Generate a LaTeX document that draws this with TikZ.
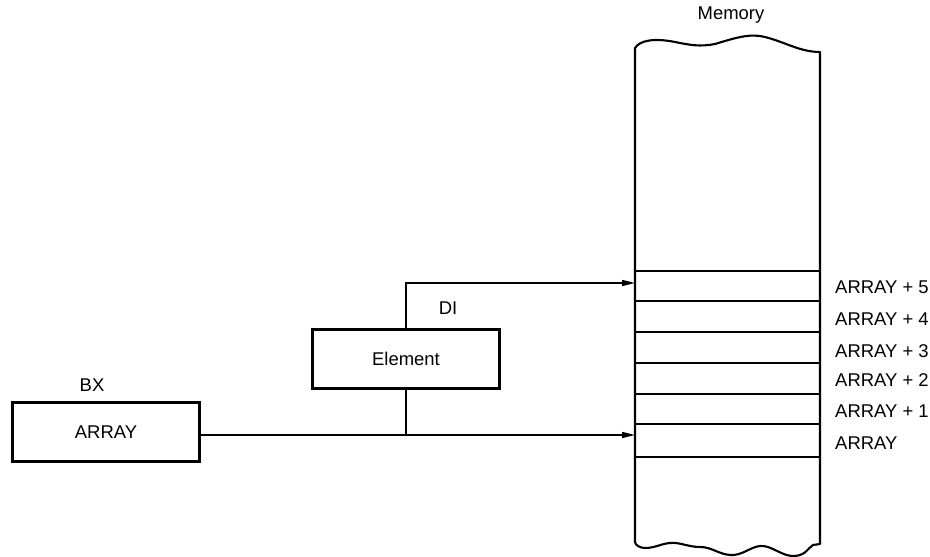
\documentclass[tikz,border=0pt]{standalone}
\usepackage{fontspec}
\setmainfont{Liberation Sans}
\usetikzlibrary{arrows.meta,calc}

\begin{document}
\begin{tikzpicture}[x=0.02cm,y=-0.02cm,
	reg/.style={draw, line width=1.4pt, minimum width=3.74cm, minimum height=1.18cm, font=\fontsize{10.5}{12}\selectfont},
	lbl/.style={font=\fontsize{10.5}{12}\selectfont},
	wire/.style={line width=0.9pt},
	ptr/.style={wire, -{Triangle[length=2.6mm,width=1.2mm]}}]
	\useasboundingbox (0,0) rectangle (930,557);
	
	\def\ml{635} % memory left edge
	\def\mr{820} % memory right edge
	
	% memory column with torn top and bottom
	\draw[line width=1.2pt, line join=round]
		(\ml,542) -- (\ml,48)
		.. controls (640,40) and (655,38) .. (675,42)
		.. controls (690,45) and (700,47) .. (715,44)
		.. controls (735,38) and (750,33) .. (765,37)
		.. controls (785,42) and (800,52) .. (\mr,52)
		-- (\mr,544) -- (813,545)
		.. controls (808,548) and (806,555) .. (795,556)
		.. controls (782,557) and (772,545) .. (760,546)
		.. controls (750,547) and (742,556) .. (730,555)
		.. controls (718,554) and (712,547) .. (700,547)
		.. controls (688,547) and (680,542) .. (670,543)
		.. controls (660,544) and (655,548) .. (645,548)
		.. controls (640,548) and (\ml,545) .. cycle;
	\node[lbl] (mem) at (731,15) {Memory};
	
	% cell borders
	\foreach \y in {271,301,332,363,394,424,457}
		\draw[line width=1.2pt] (\ml,\y) -- (\mr,\y);
	
	% cell addresses
	\node[lbl, anchor=west] (a5) at (829,287) {ARRAY + 5};
	\node[lbl, anchor=west] (a4) at (829,319) {ARRAY + 4};
	\node[lbl, anchor=west] (a3) at (829,351) {ARRAY + 3};
	\node[lbl, anchor=west] (a2) at (829,380) {ARRAY + 2};
	\node[lbl, anchor=west] (a1) at (829,411) {ARRAY + 1};
	\node[lbl, anchor=west] (a0) at (829,443) {ARRAY};
	
	% arrow targets
	\coordinate (m5) at (\ml,283);
	\coordinate (m0) at (\ml,435);
	
	% registers
	\node[reg] (bx) at (106,432) {ARRAY};
	\node[lbl] (bxl) at (92,385) {BX};
	\node[reg] (elem) at (406,359) {Element};
	\node[lbl] (dil) at (448,308) {DI};
	
	% pointers into memory
	\draw[ptr] (bx.east |- m0) -- (m0);
	\draw[wire] (elem.south) -- (elem.south |- m0);
	\draw[ptr] (elem.north) |- (m5);
\end{tikzpicture}
\end{document}
